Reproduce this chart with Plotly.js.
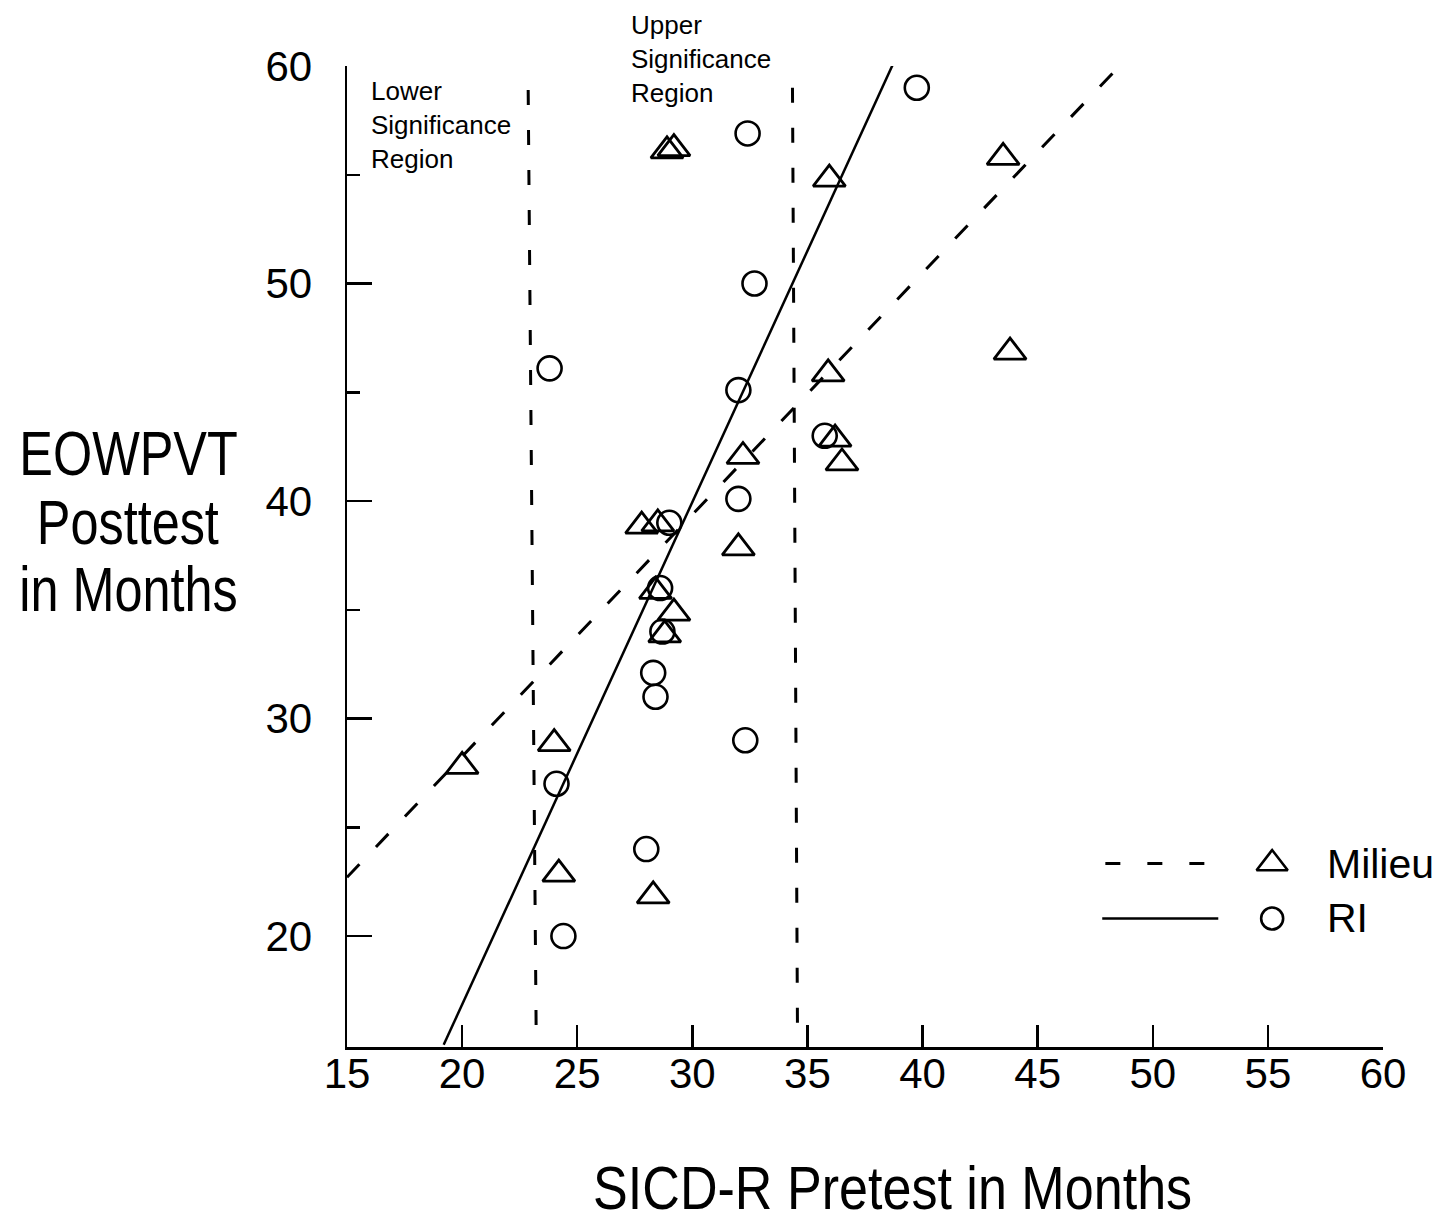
<!DOCTYPE html>
<html>
<head>
<meta charset="utf-8">
<script src="https://cdn.plot.ly/plotly-3.0.1.min.js"></script>
<style>html,body{margin:0;padding:0;background:#fff;}#chart{width:1456px;height:1228px;}</style>
</head>
<body>
<div id="chart"></div>
<script>
// ---- data ----
const milieuX = [20.0, 24.0, 24.2, 28.3, 28.9, 29.2, 35.95, 43.5, 43.8, 35.9, 36.2, 36.5, 32.2, 32.0, 27.8, 28.5, 28.4, 29.2, 28.8];
const milieuY = [27.8, 28.85, 22.85, 21.85, 56.1, 56.2, 54.8, 55.8, 46.85, 45.85, 42.85, 41.75, 42.05, 37.85, 38.85, 38.95, 35.85, 34.85, 33.85];
const riX = [39.75, 32.4, 32.7, 23.8, 32.0, 35.75, 32.0, 29.0, 28.6, 28.7, 28.3, 28.4, 32.3, 24.1, 28.0, 24.4];
const riY = [59.0, 56.9, 50.0, 46.1, 45.1, 43.0, 40.1, 39.0, 36.0, 34.0, 32.1, 31.0, 29.0, 27.0, 24.0, 20.0];
const milieuLineX = [15.0, 48.6];
const milieuLineY = [22.7, 60.05];
const riLineX = [19.2, 38.7];
const riLineY = [15.0, 60.05];
const lowerSigX = [22.87, 23.22];
const lowerSigY = [58.9, 15.2];
const upperSigX = [34.35, 34.57];
const upperSigY = [59.0, 15.2];
const xTickVals = [15, 20, 25, 30, 35, 40, 45, 50, 55, 60];
const yTickVals = [20, 30, 40, 50, 60];
const yMinorTickVals = [25, 35, 45, 55];
const seriesNames = ['Milieu', 'RI'];
const xTitle = 'SICD-R Pretest in Months';
const yTitleLines = ['EOWPVT', 'Posttest', 'in Months'];

const BLACK = '#000';
const SANS = 'Liberation Sans, Arial, Helvetica, sans-serif';

const traces = [
  {x: lowerSigX, y: lowerSigY, mode: 'lines', line: {color: BLACK, width: 3, dash: '15px,25px'}, showlegend: false, hoverinfo: 'skip'},
  {x: upperSigX, y: upperSigY, mode: 'lines', line: {color: BLACK, width: 3, dash: '15px,25px'}, showlegend: false, hoverinfo: 'skip'},
  {x: milieuLineX, y: milieuLineY, mode: 'lines', line: {color: BLACK, width: 3, dash: '18px,24px'}, showlegend: false},
  {x: riLineX, y: riLineY, mode: 'lines', line: {color: BLACK, width: 2.5}, showlegend: false},
  {x: milieuX, y: milieuY, mode: 'markers', name: seriesNames[0],
   marker: {symbol: 'triangle-up-open', size: 28, color: BLACK, line: {color: BLACK, width: 2.8}}, showlegend: false},
  {x: riX, y: riY, mode: 'markers', name: seriesNames[1],
   marker: {symbol: 'circle-open', size: 24, color: BLACK, line: {color: BLACK, width: 2.6}}, showlegend: false},
  // custom legend drawn on overlay axes (fractions of the plot area)
  {x: [0.732, 0.835], y: [0.187, 0.187], xaxis: 'x2', yaxis: 'y2', mode: 'lines', line: {color: BLACK, width: 3, dash: '15px,27px'}, showlegend: false, hoverinfo: 'skip'},
  {x: [0.893], y: [0.187], xaxis: 'x2', yaxis: 'y2', mode: 'markers', marker: {symbol: 'triangle-up-open', size: 27, color: BLACK, line: {color: BLACK, width: 2.6}}, showlegend: false, hoverinfo: 'skip'},
  {x: [0.729, 0.841], y: [0.131, 0.131], xaxis: 'x2', yaxis: 'y2', mode: 'lines', line: {color: BLACK, width: 2.5}, showlegend: false, hoverinfo: 'skip'},
  {x: [0.893], y: [0.131], xaxis: 'x2', yaxis: 'y2', mode: 'markers', marker: {symbol: 'circle-open', size: 22, color: BLACK, line: {color: BLACK, width: 2.6}}, showlegend: false, hoverinfo: 'skip'}
];

const annotations = [
  {xref: 'paper', yref: 'paper', x: 0.0213, y: 0.992, xanchor: 'left', yanchor: 'top', align: 'left', showarrow: false,
   text: 'Lower<br>Significance<br>Region', font: {family: SANS, size: 26, color: BLACK}},
  {xref: 'paper', yref: 'paper', x: 0.2725, y: 1.059, xanchor: 'left', yanchor: 'top', align: 'left', showarrow: false,
   text: 'Upper<br>Significance<br>Region', font: {family: SANS, size: 26, color: BLACK}},
  {xref: 'paper', yref: 'paper', x: 0.944, y: 0.187, xanchor: 'left', yanchor: 'middle', showarrow: false,
   text: seriesNames[0], font: {family: SANS, size: 41, color: BLACK}},
  {xref: 'paper', yref: 'paper', x: 0.944, y: 0.131, xanchor: 'left', yanchor: 'middle', showarrow: false,
   text: seriesNames[1], font: {family: SANS, size: 41, color: BLACK}},
  {xref: 'paper', yref: 'paper', x: 0.527, y: -0.1805, xanchor: 'center', yanchor: 'bottom', showarrow: false,
   text: xTitle, font: {family: SANS, size: 62, color: BLACK}}
];
const yTitleY = [0.606, 0.535, 0.467];
yTitleLines.forEach((t, i) => annotations.push({
  xref: 'paper', yref: 'paper', x: -0.211, y: yTitleY[i], xanchor: 'center', yanchor: 'middle', showarrow: false,
  text: t, font: {family: SANS, size: 63, color: BLACK}
}));

const layout = {
  width: 1456, height: 1228,
  margin: {l: 347, r: 73, t: 66, b: 181, pad: 0},
  paper_bgcolor: '#fff', plot_bgcolor: '#fff',
  showlegend: false,
  font: {family: SANS, color: BLACK},
  xaxis: {
    range: [15, 60], showline: true, linewidth: 2.5, linecolor: BLACK, mirror: false,
    ticks: 'inside', ticklen: 22, tickwidth: 2.5, tickcolor: BLACK,
    tickmode: 'array', tickvals: xTickVals, ticktext: xTickVals.map(String),
    tickfont: {family: SANS, size: 42, color: BLACK}, ticklabelstandoff: -12,
    showgrid: false, zeroline: false
  },
  yaxis: {
    range: [14.9, 60], showline: true, linewidth: 2.5, linecolor: BLACK, mirror: false,
    ticks: 'inside', ticklen: 25, tickwidth: 2.5, tickcolor: BLACK,
    tickmode: 'array', tickvals: yTickVals, ticktext: yTickVals.map(String),
    tickfont: {family: SANS, size: 42, color: BLACK}, ticklabelstandoff: 24,
    minor: {tickmode: 'array', tickvals: yMinorTickVals, ticks: 'inside', ticklen: 13, tickwidth: 2.5, tickcolor: BLACK, showgrid: false},
    showgrid: false, zeroline: false
  },
  xaxis2: {overlaying: 'x', range: [0, 1], visible: false, fixedrange: true},
  yaxis2: {overlaying: 'y', range: [0, 1], visible: false, fixedrange: true},
  annotations: annotations
};

// horizontal condensing of the large titles (the reference uses a condensed face)
const condense = {4: 0.84, 5: 0.8, 6: 0.8, 7: 0.8};
Plotly.newPlot('chart', traces, layout, {displayModeBar: false, staticPlot: true}).then(gd => {
  Object.keys(condense).forEach(idx => {
    const g = gd.querySelector('g.annotation[data-index="' + idx + '"] text.annotation-text');
    if (!g) return;
    const bb = g.getBBox();
    const cx = bb.x + bb.width / 2;
    const prev = g.getAttribute('transform') || '';
    g.setAttribute('transform', prev + ' translate(' + cx + ',0) scale(' + condense[idx] + ',1) translate(' + (-cx) + ',0)');
  });
});
</script>
</body>
</html>
